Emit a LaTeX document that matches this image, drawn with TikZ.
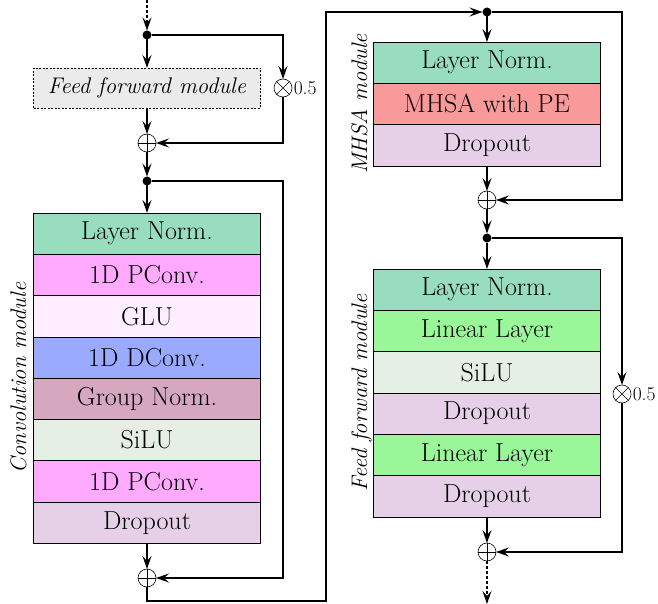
\documentclass[tikz,border=0pt]{standalone}
\usepackage{fontspec}
\usetikzlibrary{arrows.meta,positioning}
\definecolor{clnorm}{RGB}{153,221,192}
\definecolor{cpconv}{RGB}{255,170,255}
\definecolor{cglu}{RGB}{255,238,255}
\definecolor{cdconv}{RGB}{153,170,255}
\definecolor{cgnorm}{RGB}{213,168,192}
\definecolor{csilu}{RGB}{229,239,229}
\definecolor{cdrop}{RGB}{229,208,232}
\definecolor{cmhsa}{RGB}{249,153,153}
\definecolor{clin}{RGB}{153,247,153}
\definecolor{cffgray}{RGB}{235,235,235}
\begin{document}
\begin{tikzpicture}[x=1pt,y=-1pt,
  >={Stealth[length=13pt,width=9pt,inset=5pt]},
  line width=1.5pt,
  blk/.style={draw, line width=0.7pt, rectangle, minimum width=227pt, minimum height=41.3pt, inner sep=0pt, outer sep=0pt, font=\fontsize{26}{30}\selectfont},
  ffbox/.style={draw, line width=0.7pt, dash pattern=on 2pt off 1.5pt, fill=cffgray, rectangle, minimum width=227pt, minimum height=40pt, inner sep=0pt, outer sep=0pt, font=\fontsize{22.6}{26}\selectfont\itshape},
  dot/.style={circle, fill=black, minimum size=9pt, inner sep=0pt, outer sep=0pt},
  opl/.style={circle, draw, line width=0.6pt, fill=white, minimum size=18pt, inner sep=0pt, outer sep=0pt,
    path picture={\draw[line width=0.5pt] (path picture bounding box.north) -- (path picture bounding box.south) (path picture bounding box.west) -- (path picture bounding box.east);}},
  otm/.style={circle, draw, line width=0.6pt, fill=white, minimum size=18pt, inner sep=0pt, outer sep=0pt,
    path picture={\draw[line width=0.5pt] (path picture bounding box.north west) -- (path picture bounding box.south east) (path picture bounding box.south west) -- (path picture bounding box.north east);}},
  lbl/.style={font=\fontsize{19.5}{22}\selectfont, inner sep=1pt},
  modlbl/.style={rotate=90, anchor=base, font=\fontsize{22.5}{26}\selectfont\itshape, inner sep=0pt},
  dsh/.style={dash pattern=on 3pt off 2pt}
]
\useasboundingbox (0,0) rectangle (658,604);

% ---------- left column ----------
\coordinate (top) at (147,0);
\node[dot] (d1) at (147,35) {};
\node[ffbox] (ff) at (147,88) {Feed forward module};
\node[opl] (p1) at (147,143) {};
\node[otm] (m1) at (283,88) {};
\node[lbl, anchor=west] (m1l) at (m1.east) {0.5};
\node[dot] (d2) at (147,181) {};

\node[blk, fill=clnorm] (c1) at (147,233.6) {Layer Norm.};
\node[blk, fill=cpconv, below=0pt of c1] (c2) {1D PConv.};
\node[blk, fill=cglu, below=0pt of c2] (c3) {GLU};
\node[blk, fill=cdconv, below=0pt of c3] (c4) {1D DConv.};
\node[blk, fill=cgnorm, below=0pt of c4] (c5) {Group Norm.};
\node[blk, fill=csilu, below=0pt of c5] (c6) {SiLU};
\node[blk, fill=cpconv, below=0pt of c6] (c7) {1D PConv.};
\node[blk, fill=cdrop, below=0pt of c7] (c8) {Dropout};
\node[modlbl] (convlbl) at (26,378) {Convolution module};
\node[opl] (p2) at (147,578) {};

\coordinate (cbr) at (283,578);
\coordinate (l1) at (147,601);
\coordinate (l2) at (326,12);

% ---------- right column ----------
\node[dot] (d3) at (487,12) {};
\node[blk, fill=clnorm] (a1) at (487,62.7) {Layer Norm.};
\node[blk, fill=cmhsa, below=0pt of a1] (a2) {MHSA with PE};
\node[blk, fill=cdrop, below=0pt of a2] (a3) {Dropout};
\node[modlbl] (mhsalbl) at (367,104) {MHSA module};
\node[opl] (p3) at (487,200) {};
\coordinate (r1) at (622,200);
\node[dot] (d4) at (487,238) {};

\node[blk, fill=clnorm] (f1) at (487,289.7) {Layer Norm.};
\node[blk, fill=clin, below=0pt of f1] (f2) {Linear Layer};
\node[blk, fill=csilu, below=0pt of f2] (f3) {SiLU};
\node[blk, fill=cdrop, below=0pt of f3] (f4) {Dropout};
\node[blk, fill=clin, below=0pt of f4] (f5) {Linear Layer};
\node[blk, fill=cdrop, below=0pt of f5] (f6) {Dropout};
\node[modlbl] (fflbl) at (367,393) {Feed forward module};
\node[otm] (m2) at (622,394) {};
\node[lbl, anchor=west] (m2l) at (m2.east) {0.5};
\node[opl] (p4) at (487,552) {};
\coordinate (out) at (487,604);

% ---------- connectors ----------
\draw[->, dsh] (top) -- (d1);
\draw[->] (d1) -- (ff.north);
\draw[->] (ff.south) -- (p1);
\draw[->] (d1) -| (m1);
\draw[->] (m1) |- (p1);
\draw[->] (p1) -- (d2);
\draw[->] (d2) -- (c1.north);
\draw[->] (c8.south) -- (p2);
\draw[->] (d2) -| (cbr) -- (p2);
\draw[->] (p2) -- (l1) -| (l2) -- (d3);

\draw[->] (d3) -- (a1.north);
\draw[->] (a3.south) -- (p3);
\draw[->] (d3) -| (r1) -- (p3);
\draw[->] (p3) -- (d4);
\draw[->] (d4) -- (f1.north);
\draw[->] (d4) -| (m2);
\draw[->] (m2) |- (p4);
\draw[->] (f6.south) -- (p4);
\draw[->, dsh] (p4) -- (out);
\end{tikzpicture}
\end{document}
